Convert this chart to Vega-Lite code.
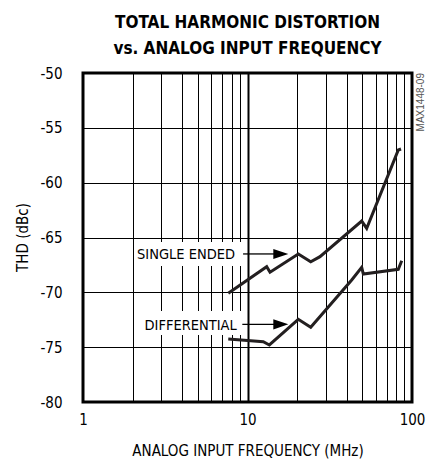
{
  "$schema": "https://vega.github.io/schema/vega-lite/v6.json",
  "autosize": "none",
  "width": 329,
  "height": 329,
  "padding": {"left": 83, "top": 73, "right": 23, "bottom": 57},
  "background": "white",
  "title": {
    "text": ["TOTAL HARMONIC DISTORTION", "vs. ANALOG INPUT FREQUENCY"],
    "font": "DejaVu Sans Condensed, sans-serif",
    "fontSize": 17,
    "fontWeight": "bold",
    "lineHeight": 26,
    "color": "black",
    "anchor": "middle",
    "frame": "group",
    "offset": 8
  },
  "config": {
    "view": {"stroke": "black", "strokeWidth": 3},
    "axis": {
      "labelFont": "DejaVu Sans Condensed, sans-serif",
      "labelFontSize": 15,
      "labelColor": "black",
      "titleFont": "DejaVu Sans Condensed, sans-serif",
      "titleFontSize": 15,
      "titleFontWeight": "normal",
      "titleColor": "black",
      "gridColor": "black",
      "gridOpacity": 1,
      "domain": false,
      "ticks": false,
      "labelOverlap": false,
      "labelBound": false,
      "labelFlush": false
    }
  },
  "datasets": {
    "curves": [
      {"series": "SINGLE ENDED", "f": 7.64, "thd": -70.09},
      {"series": "SINGLE ENDED", "f": 13.08, "thd": -67.66},
      {"series": "SINGLE ENDED", "f": 13.71, "thd": -68.17},
      {"series": "SINGLE ENDED", "f": 20.36, "thd": -66.5},
      {"series": "SINGLE ENDED", "f": 24.23, "thd": -67.21},
      {"series": "SINGLE ENDED", "f": 27.59, "thd": -66.75},
      {"series": "SINGLE ENDED", "f": 49.46, "thd": -63.5},
      {"series": "SINGLE ENDED", "f": 53.04, "thd": -64.16},
      {"series": "SINGLE ENDED", "f": 82.54, "thd": -57.02},
      {"series": "SINGLE ENDED", "f": 85.74, "thd": -56.93},
      {"series": "DIFFERENTIAL", "f": 7.64, "thd": -74.26},
      {"series": "DIFFERENTIAL", "f": 12.47, "thd": -74.5},
      {"series": "DIFFERENTIAL", "f": 13.58, "thd": -74.8},
      {"series": "DIFFERENTIAL", "f": 20.36, "thd": -72.46},
      {"series": "DIFFERENTIAL", "f": 24.23, "thd": -73.19},
      {"series": "DIFFERENTIAL", "f": 43.0, "thd": -68.88},
      {"series": "DIFFERENTIAL", "f": 49.46, "thd": -67.72},
      {"series": "DIFFERENTIAL", "f": 50.6, "thd": -68.33},
      {"series": "DIFFERENTIAL", "f": 82.54, "thd": -67.9},
      {"series": "DIFFERENTIAL", "f": 86.6, "thd": -67.12}
    ],
    "labels": [
      {"label": "SINGLE ENDED", "fx": 8.4, "ty": -66.6, "bx1": 2.05, "bx2": 9.4, "by1": -65.41, "by2": -67.6, "ax1": 9.4, "ax2": 14.69, "ah": 15.94, "ay": -66.5},
      {"label": "DIFFERENTIAL", "fx": 8.6, "ty": -73.04, "bx1": 2.05, "bx2": 9.4, "by1": -71.7, "by2": -73.89, "ax1": 9.3, "ax2": 14.69, "ah": 15.94, "ay": -72.92}
    ],
    "note": [{"text": "MAX1448-09", "f": 100, "thd": -50}]
  },
  "encoding": {
    "x": {
      "type": "quantitative",
      "scale": {"type": "log", "domain": [1, 100], "nice": false},
      "axis": {
        "title": "ANALOG INPUT FREQUENCY (MHz)",
        "values": [1, 2, 3, 4, 5, 6, 7, 8, 9, 10, 20, 30, 40, 50, 60, 70, 80, 90, 100],
        "labelExpr": "(datum.value == 1 || datum.value == 10 || datum.value == 100) ? '' + datum.value : ''",
        "labelPadding": 10,
        "titleY": 48,
        "titleBaseline": "middle",
        "grid": true,
        "gridWidth": {"condition": {"test": "datum.value == 10", "value": 2}, "value": 1}
      }
    },
    "y": {
      "type": "quantitative",
      "scale": {"domain": [-80, -50], "nice": false, "zero": false},
      "axis": {
        "title": "THD (dBc)",
        "values": [-80, -75, -70, -65, -60, -55, -50],
        "labelExpr": "'' + datum.value",
        "labelPadding": 21,
        "titleX": -61,
        "titleY": 164,
        "titleAlign": "center",
        "titleBaseline": "middle",
        "grid": true,
        "gridWidth": 1
      }
    }
  },
  "layer": [
    {
      "data": {"name": "labels"},
      "mark": {"type": "rect", "fill": "white", "stroke": null},
      "encoding": {
        "x": {"field": "bx1"},
        "x2": {"field": "bx2"},
        "y": {"field": "by1"},
        "y2": {"field": "by2"}
      }
    },
    {
      "data": {"name": "curves"},
      "mark": {"type": "line", "color": "#231f20", "strokeWidth": 3, "strokeJoin": "miter", "strokeCap": "butt"},
      "encoding": {
        "x": {"field": "f"},
        "y": {"field": "thd"},
        "detail": {"field": "series", "type": "nominal"}
      }
    },
    {
      "data": {"name": "labels"},
      "mark": {"type": "text", "align": "right", "baseline": "middle", "fontSize": 14.5, "color": "black", "font": "DejaVu Sans Condensed, sans-serif"},
      "encoding": {
        "x": {"field": "fx"},
        "y": {"field": "ty"},
        "text": {"field": "label"}
      }
    },
    {
      "data": {"name": "labels"},
      "mark": {"type": "rule", "color": "black", "strokeWidth": 1.3},
      "encoding": {
        "x": {"field": "ax1"},
        "x2": {"field": "ax2"},
        "y": {"field": "ay"}
      }
    },
    {
      "data": {"name": "labels"},
      "mark": {"type": "point", "shape": "M -1 -0.67 L 1 0 L -1 0.67 Z", "filled": true, "color": "black", "size": 225, "opacity": 1},
      "encoding": {
        "x": {"field": "ah"},
        "y": {"field": "ay"}
      }
    },
    {
      "data": {"name": "note"},
      "mark": {"type": "text", "angle": 270, "align": "right", "baseline": "middle", "dy": 9, "fontSize": 10, "color": "#555", "font": "Liberation Sans, Arial, sans-serif"},
      "encoding": {
        "x": {"field": "f"},
        "y": {"field": "thd"},
        "text": {"field": "text"}
      }
    }
  ]
}
